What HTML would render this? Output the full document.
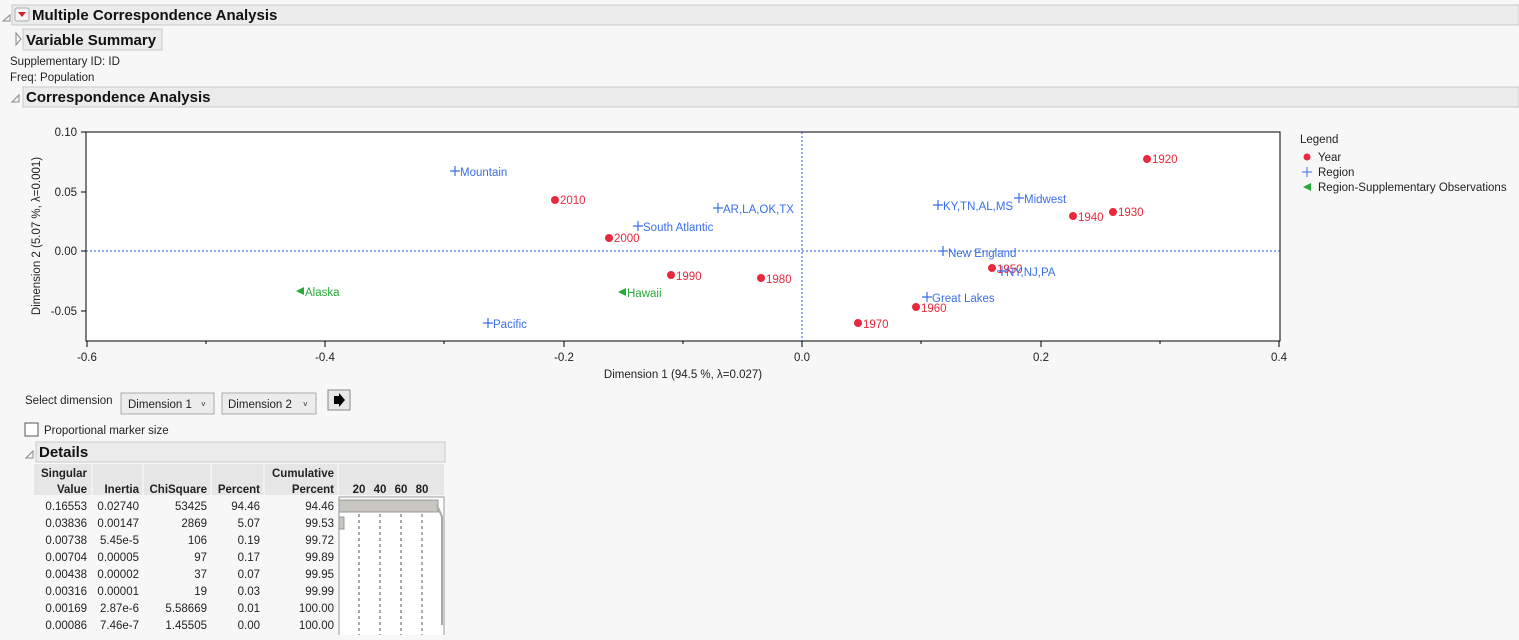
<!DOCTYPE html>
<html><head><meta charset="utf-8"><style>
body{margin:0;background:#f7f7f7;width:1519px;height:635px;overflow:hidden;font-family:"Liberation Sans","DejaVu Sans",sans-serif;}
svg text{font-family:"Liberation Sans","DejaVu Sans",sans-serif;}
</style></head><body>
<svg width="1519" height="635" xmlns="http://www.w3.org/2000/svg">
<rect width="1519" height="635" fill="#f7f7f7"/>
<path d="M3,21 L10,15 L10,21 Z" fill="none" stroke="#888"/>
<rect x="12" y="5" width="1507" height="20" fill="#ebebeb" stroke="#c8c8c8"/>
<rect x="15" y="8" width="14" height="13" rx="2" fill="#f4f4f4" stroke="#aaa"/>
<path d="M18,12 L26,12 L22,17 Z" fill="#d0202a"/>
<text x="32" y="20" font-size="15" font-weight="bold" fill="#111">Multiple Correspondence Analysis</text>
<path d="M16,33 L21,39 L16,45 Z" fill="none" stroke="#888"/>
<rect x="23" y="29" width="139" height="21" fill="#ebebeb" stroke="#c8c8c8"/>
<text x="26" y="45" font-size="15" font-weight="bold" fill="#111">Variable Summary</text>
<text x="10" y="65" font-size="11.5" fill="#222">Supplementary ID: ID</text>
<text x="10" y="81" font-size="11.5" fill="#222">Freq: Population</text>
<path d="M12,102 L19,95 L19,102 Z" fill="none" stroke="#888"/>
<rect x="23" y="87" width="1496" height="20" fill="#ebebeb" stroke="#c8c8c8"/>
<text x="26" y="102" font-size="15" font-weight="bold" fill="#111">Correspondence Analysis</text>
<rect x="86" y="132" width="1194" height="209" fill="#fff" stroke="#000"/>
<line x1="802" y1="132" x2="802" y2="341" stroke="#2255ee" stroke-dasharray="2,2"/>
<line x1="86" y1="251" x2="1280" y2="251" stroke="#2255ee" stroke-dasharray="2,2"/>
<g stroke="#000">
<line x1="81" y1="132" x2="86" y2="132"/><line x1="81" y1="192" x2="86" y2="192"/><line x1="81" y1="251" x2="86" y2="251"/><line x1="81" y1="311" x2="86" y2="311"/>
<line x1="87" y1="341" x2="87" y2="347"/><line x1="325" y1="341" x2="325" y2="347"/><line x1="564" y1="341" x2="564" y2="347"/><line x1="802" y1="341" x2="802" y2="347"/><line x1="1041" y1="341" x2="1041" y2="347"/><line x1="1279" y1="341" x2="1279" y2="347"/>
<line x1="206" y1="341" x2="206" y2="344"/><line x1="444" y1="341" x2="444" y2="344"/><line x1="683" y1="341" x2="683" y2="344"/><line x1="921" y1="341" x2="921" y2="344"/><line x1="1160" y1="341" x2="1160" y2="344"/>
</g>
<g font-size="11.5" fill="#222" text-anchor="end">
<text x="77" y="136">0.10</text><text x="77" y="196">0.05</text><text x="77" y="255">0.00</text><text x="77" y="315">-0.05</text>
</g>
<g font-size="11.5" fill="#222" text-anchor="middle">
<text x="87" y="361">-0.6</text><text x="325" y="361">-0.4</text><text x="564" y="361">-0.2</text><text x="802" y="361">0.0</text><text x="1041" y="361">0.2</text><text x="1279" y="361">0.4</text>
<text x="683" y="378">Dimension 1  (94.5 %, λ=0.027)</text>
<text transform="translate(40,236) rotate(-90)">Dimension 2  (5.07 %, λ=0.001)</text>
</g>
<g fill="#e8283c" font-size="11.5">
<circle cx="1147" cy="159" r="4"/><text x="1152" y="163">1920</text>
<circle cx="555" cy="200" r="4"/><text x="560" y="204">2010</text>
<circle cx="1073" cy="216" r="4"/><text x="1078" y="221">1940</text>
<circle cx="1113" cy="212" r="4"/><text x="1118" y="216">1930</text>
<circle cx="609" cy="238" r="4"/><text x="614" y="242">2000</text>
<circle cx="671" cy="275" r="4"/><text x="676" y="280">1990</text>
<circle cx="761" cy="278" r="4"/><text x="766" y="283">1980</text>
<circle cx="992" cy="268" r="4"/><text x="997" y="273">1950</text>
<circle cx="916" cy="307" r="4"/><text x="921" y="312">1960</text>
<circle cx="858" cy="323" r="4"/><text x="863" y="328">1970</text>
</g>
<g fill="#3a6ee8" font-size="11.5">
<g stroke="#3a6ee8" stroke-width="1.2">
<path d="M450,171h10M455,166v10"/><path d="M713,208h10M718,203v10"/><path d="M633,226h10M638,221v10"/>
<path d="M933,205h10M938,200v10"/><path d="M1014,198h10M1019,193v10"/><path d="M938,251h10M943,246v10"/>
<path d="M997,271h10M1002,266v10"/><path d="M922,297h10M927,292v10"/><path d="M483,323h10M488,318v10"/>
</g>
<text x="460" y="176">Mountain</text><text x="723" y="213">AR,LA,OK,TX</text><text x="643" y="231">South Atlantic</text>
<text x="943" y="210">KY,TN,AL,MS</text><text x="1024" y="203">Midwest</text><text x="948" y="257">New England</text>
<text x="1006" y="276">NY,NJ,PA</text><text x="932" y="302">Great Lakes</text><text x="493" y="328">Pacific</text>
</g>
<g fill="#2aaa3a" font-size="11.5">
<path d="M296,291 L304,287 L304,295 Z"/><text x="305" y="296">Alaska</text>
<path d="M618,292 L626,288 L626,296 Z"/><text x="627" y="297">Hawaii</text>
</g>
<g font-size="11.5" fill="#222">
<text x="1300" y="143">Legend</text>
<circle cx="1307" cy="157" r="3.5" fill="#e8283c"/><text x="1318" y="161">Year</text>
<path d="M1302,172h10M1307,167v10" stroke="#3a6ee8"/><text x="1318" y="176">Region</text>
<path d="M1303,187 L1311,183 L1311,191 Z" fill="#2aaa3a"/><text x="1318" y="191">Region-Supplementary Observations</text>
</g>
<g font-size="11.5" fill="#222">
<text x="25" y="404">Select dimension</text>
<rect x="121" y="393" width="93" height="21" fill="#ececec" stroke="#aaa"/><text x="128" y="408">Dimension 1</text><text x="201" y="407" font-size="8">˅</text>
<rect x="222" y="393" width="94" height="21" fill="#ececec" stroke="#aaa"/><text x="228" y="408">Dimension 2</text><text x="303" y="407" font-size="8">˅</text>
<rect x="328" y="390" width="22" height="20" fill="#e8e8e8" stroke="#888"/><path d="M334,396h5v-3l6,7l-6,7v-3h-5z" fill="#000"/>
<rect x="25" y="423" width="13" height="13" fill="#fff" stroke="#555"/>
<text x="44" y="434">Proportional marker size</text>
</g>
<path d="M26,458 L33,451 L33,458 Z" fill="none" stroke="#888"/>
<rect x="36" y="442" width="409" height="20" fill="#ebebeb" stroke="#c8c8c8"/>
<text x="39" y="457" font-size="15" font-weight="bold" fill="#111">Details</text>
<rect x="34" y="464" width="410" height="31" fill="#e6e6e6"/>
<g stroke="#f7f7f7" stroke-width="1.5"><line x1="92" y1="464" x2="92" y2="495"/><line x1="143" y1="464" x2="143" y2="495"/><line x1="211" y1="464" x2="211" y2="495"/><line x1="264" y1="464" x2="264" y2="495"/><line x1="338" y1="464" x2="338" y2="495"/></g>
<g font-size="11.5" font-weight="bold" fill="#222" text-anchor="end">
<text x="87" y="477">Singular</text><text x="87" y="493">Value</text>
<text x="139" y="493">Inertia</text><text x="207" y="493">ChiSquare</text><text x="260" y="493">Percent</text>
<text x="334" y="477">Cumulative</text><text x="334" y="493">Percent</text>
</g>
<g font-size="11.5" font-weight="bold" fill="#222" text-anchor="middle">
<text x="359" y="493">20</text><text x="380" y="493">40</text><text x="401" y="493">60</text><text x="422" y="493">80</text>
</g>
<g font-size="11.5" fill="#222" text-anchor="end">
<text x="87" y="510">0.16553</text><text x="139" y="510">0.02740</text><text x="207" y="510">53425</text><text x="260" y="510">94.46</text><text x="334" y="510">94.46</text>
<text x="87" y="527">0.03836</text><text x="139" y="527">0.00147</text><text x="207" y="527">2869</text><text x="260" y="527">5.07</text><text x="334" y="527">99.53</text>
<text x="87" y="544">0.00738</text><text x="139" y="544">5.45e-5</text><text x="207" y="544">106</text><text x="260" y="544">0.19</text><text x="334" y="544">99.72</text>
<text x="87" y="561">0.00704</text><text x="139" y="561">0.00005</text><text x="207" y="561">97</text><text x="260" y="561">0.17</text><text x="334" y="561">99.89</text>
<text x="87" y="578">0.00438</text><text x="139" y="578">0.00002</text><text x="207" y="578">37</text><text x="260" y="578">0.07</text><text x="334" y="578">99.95</text>
<text x="87" y="595">0.00316</text><text x="139" y="595">0.00001</text><text x="207" y="595">19</text><text x="260" y="595">0.03</text><text x="334" y="595">99.99</text>
<text x="87" y="612">0.00169</text><text x="139" y="612">2.87e-6</text><text x="207" y="612">5.58669</text><text x="260" y="612">0.01</text><text x="334" y="612">100.00</text>
<text x="87" y="629">0.00086</text><text x="139" y="629">7.46e-7</text><text x="207" y="629">1.45505</text><text x="260" y="629">0.00</text><text x="334" y="629">100.00</text>
</g>
<rect x="339" y="497" width="105" height="140" fill="#fff" stroke="#999"/>
<g stroke="#555" stroke-dasharray="3,3"><line x1="359" y1="514" x2="359" y2="635"/><line x1="380" y1="514" x2="380" y2="635"/><line x1="401" y1="514" x2="401" y2="635"/><line x1="422" y1="514" x2="422" y2="635"/></g>
<rect x="339" y="500" width="99" height="12" fill="#c8c6c0" stroke="#999"/>
<rect x="339" y="517" width="5" height="12" fill="#c8c6c0" stroke="#999"/>
<path d="M437,505 L442,517 L442,625" fill="none" stroke="#aaa" stroke-width="2"/>
</svg>
</body></html>
